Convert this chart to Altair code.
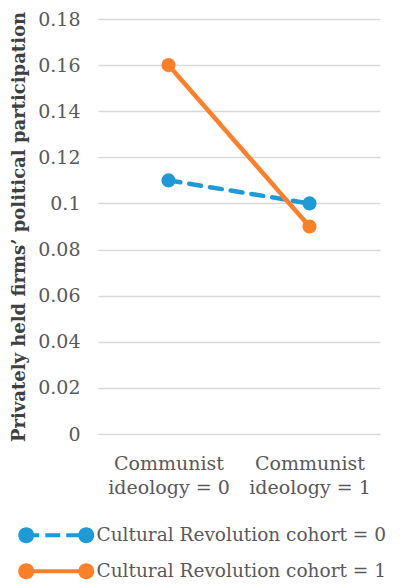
import altair as alt
import pandas as pd

# ---- data ----
categories = ["Communist\nideology = 0", "Communist\nideology = 1"]
series_names = ["Cultural Revolution cohort = 0", "Cultural Revolution cohort = 1"]
cohort0_values = [0.11, 0.10]
cohort1_values = [0.16, 0.09]
y_ticks = [0, 0.02, 0.04, 0.06, 0.08, 0.10, 0.12, 0.14, 0.16, 0.18]

rows = []
for s, vals in zip(series_names, [cohort0_values, cohort1_values]):
    for c, v in zip(categories, vals):
        rows.append({"ideology": c, "series": s, "value": v})
df = pd.DataFrame(rows)

BLUE = "#1E9AD6"
ORANGE = "#FD7F28"
GRAY = "#595959"
FONT = "DejaVu Serif"

# legend glyphs (units: 1 = 8 px at symbolSize 256)
circles = ("M-4.75,0 A1,1 0 1,1 -2.75,0 A1,1 0 1,1 -4.75,0 Z "
           "M2.75,0 A1,1 0 1,1 4.75,0 A1,1 0 1,1 2.75,0 Z ")
solid_glyph = circles + "M-3.75,-0.25 L3.75,-0.25 L3.75,0.25 L-3.75,0.25 Z"
dashed_glyph = (circles +
                "M-3.75,-0.25 L-2.125,-0.25 L-2.125,0.25 L-3.75,0.25 Z "
                "M-1.375,-0.25 L0.5,-0.25 L0.5,0.25 L-1.375,0.25 Z "
                "M1.25,-0.25 L3.75,-0.25 L3.75,0.25 L1.25,0.25 Z")

color_scale = alt.Scale(domain=series_names, range=[BLUE, ORANGE])
dash_scale = alt.Scale(domain=series_names, range=[[12, 9], [1, 0]])
shape_scale = alt.Scale(domain=series_names, range=[dashed_glyph, solid_glyph])

x_enc = alt.X(
    "ideology:N",
    sort=categories,
    scale=alt.Scale(type="point", padding=0.5),
    axis=alt.Axis(
        title=None, labelAngle=0, labelExpr="split(datum.label, '\\n')",
        labelFont=FONT, labelFontSize=19, labelColor=GRAY, labelLineHeight=24,
        labelPadding=20, ticks=False, domain=False, grid=False,
    ),
)
y_enc = alt.Y(
    "value:Q",
    scale=alt.Scale(domain=[0, 0.18], nice=False),
    axis=alt.Axis(
        title="Privately held firms’ political participation",
        values=y_ticks, format="~g",
        labelFont=FONT, labelFontSize=19, labelColor=GRAY, labelPadding=18,
        titleFont=FONT, titleFontSize=18, titleFontWeight="bold", titleColor="#404040",
        titlePadding=9, titleLimit=0,
        ticks=False, domain=False, grid=True, gridColor="#D9D9D9", gridWidth=1.3,
    ),
)

legend_cfg = dict(
    title=None, orient="none", legendX=-51, legendY=507, direction="vertical",
    symbolSize=256, symbolOpacity=1, symbolStrokeWidth=0,
    labelFont=FONT, labelFontSize=18.5, labelColor=GRAY, labelOffset=31,
    labelLimit=0, rowPadding=17, padding=0,
)

base = alt.Chart(df)

legend_layer = base.mark_point(filled=True, opacity=0).encode(
    x=x_enc, y=y_enc,
    color=alt.Color("series:N", scale=color_scale, legend=alt.Legend(**legend_cfg)),
    shape=alt.Shape("series:N", scale=shape_scale, legend=alt.Legend(**legend_cfg)),
)

lines = base.mark_line(strokeWidth=4.5, strokeCap="round").encode(
    x=x_enc, y=y_enc,
    color=alt.Color("series:N", scale=color_scale, legend=alt.Legend(**legend_cfg)),
    strokeDash=alt.StrokeDash("series:N", scale=dash_scale, legend=None),
)

points = base.mark_circle(size=200, opacity=1).encode(
    x=x_enc, y=y_enc,
    color=alt.Color("series:N", scale=color_scale, legend=alt.Legend(**legend_cfg)),
)

chart = alt.layer(legend_layer, lines, points).properties(
    width=282, height=415,
    autosize=alt.AutoSizeParams(type="none"),
    padding={"left": 90, "top": 11, "right": 12, "bottom": 146},
).configure_view(stroke=None)

chart.save("out.html", embed_options={"renderer": "svg", "actions": False})
